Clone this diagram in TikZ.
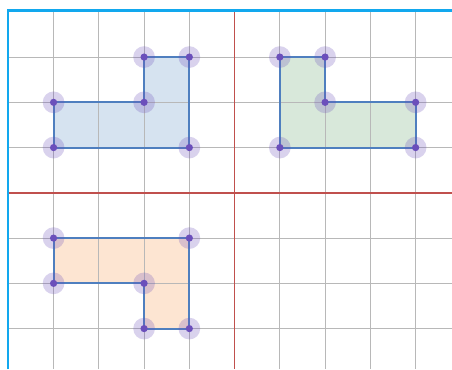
\documentclass[tikz,border=0pt]{standalone}
\definecolor{gridgray}{HTML}{B8B8B8}
\definecolor{axisred}{HTML}{C0504D}
\definecolor{edgeblue}{HTML}{4F7FBF}
\definecolor{framecyan}{HTML}{12A8EE}
\definecolor{fillblue}{HTML}{D6E3F0}
\definecolor{fillgreen}{HTML}{D8E8DA}
\definecolor{fillorange}{HTML}{FDE5D2}
\definecolor{dotpurple}{HTML}{6B4FBB}
\tikzset{
  gridline/.style={draw=gridgray, line width=0.7pt},
  axisline/.style={draw=axisred, line width=1.1pt},
  frameline/.style={draw=framecyan, line width=1.4pt},
  shapeedge/.style={draw=edgeblue, line width=1.2pt, line join=miter},
  vertex/.style={circle, inner sep=0pt, minimum size=0.16cm, fill=dotpurple},
  halo/.style={circle, inner sep=0pt, minimum size=0.48cm, fill=dotpurple, fill opacity=0.25},
}
\begin{document}
\begin{tikzpicture}[x=1cm,y=1cm]
\useasboundingbox (-5.184,-3.894) rectangle (4.804,4.261);
\fill[white] (-5.184,-3.894) rectangle (4.804,4.261);
% vertices
\coordinate (b1) at (-4,1); \coordinate (b2) at (-4,2); \coordinate (b3) at (-2,2);
\coordinate (b4) at (-2,3); \coordinate (b5) at (-1,3); \coordinate (b6) at (-1,1);
\coordinate (g1) at (1,3); \coordinate (g2) at (2,3); \coordinate (g3) at (2,2);
\coordinate (g4) at (4,2); \coordinate (g5) at (4,1); \coordinate (g6) at (1,1);
\coordinate (o1) at (-4,-1); \coordinate (o2) at (-1,-1); \coordinate (o3) at (-1,-3);
\coordinate (o4) at (-2,-3); \coordinate (o5) at (-2,-2); \coordinate (o6) at (-4,-2);
% fills
\fill[fillblue] (b1) -- (b2) -- (b3) -- (b4) -- (b5) -- (b6) -- cycle;
\fill[fillgreen] (g1) -- (g2) -- (g3) -- (g4) -- (g5) -- (g6) -- cycle;
\fill[fillorange] (o1) -- (o2) -- (o3) -- (o4) -- (o5) -- (o6) -- cycle;
% grid
\foreach \x in {-4,-3,-2,-1,1,2,3,4} \draw[gridline] (\x,4.03) -- (\x,-3.894);
\foreach \y in {-3,-2,-1,1,2,3} \draw[gridline] (-5,\y) -- (4.804,\y);
% axes
\draw[axisline] (0,4.03) -- (0,-3.894);
\draw[axisline] (-5,0) -- (4.804,0);
% frame
\draw[frameline] (-5.0,-3.894) -- (-5.0,4.03) -- (4.804,4.03);
% outlines
\draw[shapeedge] (b1) -- (b2) -- (b3) -- (b4) -- (b5) -- (b6) -- cycle;
\draw[shapeedge] (g1) -- (g2) -- (g3) -- (g4) -- (g5) -- (g6) -- cycle;
\draw[shapeedge] (o1) -- (o2) -- (o3) -- (o4) -- (o5) -- (o6) -- cycle;
% dots
\foreach \p in {b1,b2,b3,b4,b5,b6,g1,g2,g3,g4,g5,g6,o1,o2,o3,o4,o5,o6} {
  \node[halo] (h\p) at (\p) {};
  \node[vertex] (v\p) at (\p) {};
}
\end{tikzpicture}
\end{document}
